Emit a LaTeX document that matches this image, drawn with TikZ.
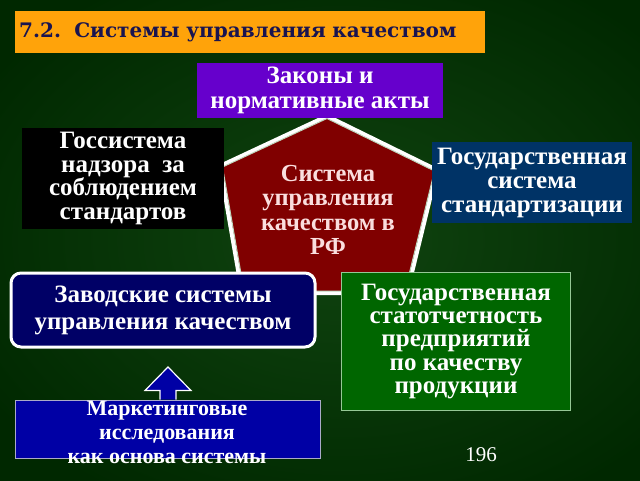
\documentclass[tikz,border=0pt]{standalone}
\usepackage{fontspec}
\setmainfont{Liberation Serif}
\newfontfamily\titlefont{DejaVu Serif}
\usetikzlibrary{calc}
\definecolor{bgdark}{RGB}{0,40,0}
\definecolor{bglight}{RGB}{16,68,16}
\definecolor{ttlorange}{RGB}{255,163,10}
\definecolor{ttlnavy}{RGB}{25,20,80}
\definecolor{lawpurple}{RGB}{102,0,204}
\definecolor{stdblue}{RGB}{0,51,102}
\definecolor{pentred}{RGB}{128,0,0}
\definecolor{pentedge}{RGB}{190,215,190}
\definecolor{pinktext}{RGB}{250,222,222}
\definecolor{navybox}{RGB}{0,0,102}
\definecolor{statgreen}{RGB}{0,102,0}
\definecolor{statedge}{RGB}{150,200,150}
\definecolor{mktblue}{RGB}{0,0,165}
\definecolor{mktedge}{RGB}{170,170,200}
\tikzset{
  boxtext/.style={text=white, align=center, inner sep=0pt,
    font=\bfseries\fontsize{25}{23.5}\selectfont},
  plainbox/.style={inner sep=0pt},
}
\begin{document}
\begin{tikzpicture}[x=1pt,y=-1pt]
\useasboundingbox (0,0) rectangle (640,480);
\shade[inner color=bglight, outer color=bgdark] (-80,-60) rectangle (760,540);
% pentagon
\draw[fill=pentred, draw=white, line width=4pt, line join=miter]
  (327,116) -- (437,170) -- (407,293) -- (242,293) -- (220,166) -- cycle;
\draw[draw=pentedge, line width=1pt, line join=miter]
  (327,118.5) -- (434.5,171) -- (405,291) -- (244,291) -- (222.5,167) -- cycle;
\node[boxtext, text=pinktext, font=\bfseries\fontsize{24.5}{24.5}\selectfont] (pent) at (328,210)
  {Система\\управления\\качеством в\\РФ};
% title
\node[fill=ttlorange, minimum width=470pt, minimum height=42pt, text width=462pt,
  inner sep=4pt, align=left, anchor=north west, text=ttlnavy,
  font=\titlefont\bfseries\fontsize{20}{22}\selectfont] (title) at (15,11)
  {7.2.\ \ Системы управления качеством};
% laws
\node[plainbox, fill=lawpurple, minimum width=246pt, minimum height=55pt] (laws) at (320,90.5) {};
\node[boxtext, font=\bfseries\fontsize{25}{25}\selectfont] (lawstext) at (laws.center) {Законы и\\нормативные акты};
% black box
\node[plainbox, fill=black, minimum width=202pt, minimum height=101pt] (gos) at (123,178.5) {};
\node[boxtext] (gostext) at (gos.center) {Госсистема\\надзора\ \ за\\соблюдением\\стандартов};
% standardization
\node[plainbox, fill=stdblue, minimum width=200pt, minimum height=81pt] (std) at (532,182.5) {};
\node[boxtext, font=\bfseries\fontsize{25}{24}\selectfont] (stdtext) at (std.center) {Государственная\\система\\стандартизации};
% factory systems
\node[plainbox, fill=navybox, draw=white, line width=3pt, rounded corners=10pt,
  minimum width=304pt, minimum height=74pt] (zav) at (163,310) {};
\node[boxtext, font=\bfseries\fontsize{25}{27}\selectfont] (zavtext) at (zav.center)
  {Заводские системы\\управления качеством};
% statistics
\node[plainbox, fill=statgreen, draw=statedge, line width=1.2pt,
  minimum width=229pt, minimum height=138pt] (stat) at (456,341.5) {};
\node[boxtext, font=\bfseries\fontsize{25}{23.3}\selectfont] (stattext) at (stat.center)
  {Государственная\\статотчетность\\предприятий\\по качеству\\продукции};
% marketing
\node[plainbox, fill=mktblue, draw=mktedge, line width=1pt,
  minimum width=305pt, minimum height=58pt] (mkt) at (167.5,429) {};
\coordinate (atip) at (168,367);
\coordinate (abase) at (mkt.north -| atip);
\draw[fill=mktblue, draw=white, line width=1.2pt, line join=miter]
  ($(abase)+(-8,0)$) -- ($(abase)+(-8,-9)$) -- ($(abase)+(-23,-9)$) -- (atip)
  -- ($(abase)+(23,-9)$) -- ($(abase)+(8,-9)$) -- ($(abase)+(8,0)$);
\node[boxtext, font=\bfseries\fontsize{22}{24}\selectfont] (mkttext) at (167,432)
  {Маркетинговые\\исследования\\как основа системы};
% page number
\node[text=white, inner sep=0pt, font=\fontsize{21}{21}\selectfont] (page) at (481,455) {196};
\end{tikzpicture}
\end{document}
